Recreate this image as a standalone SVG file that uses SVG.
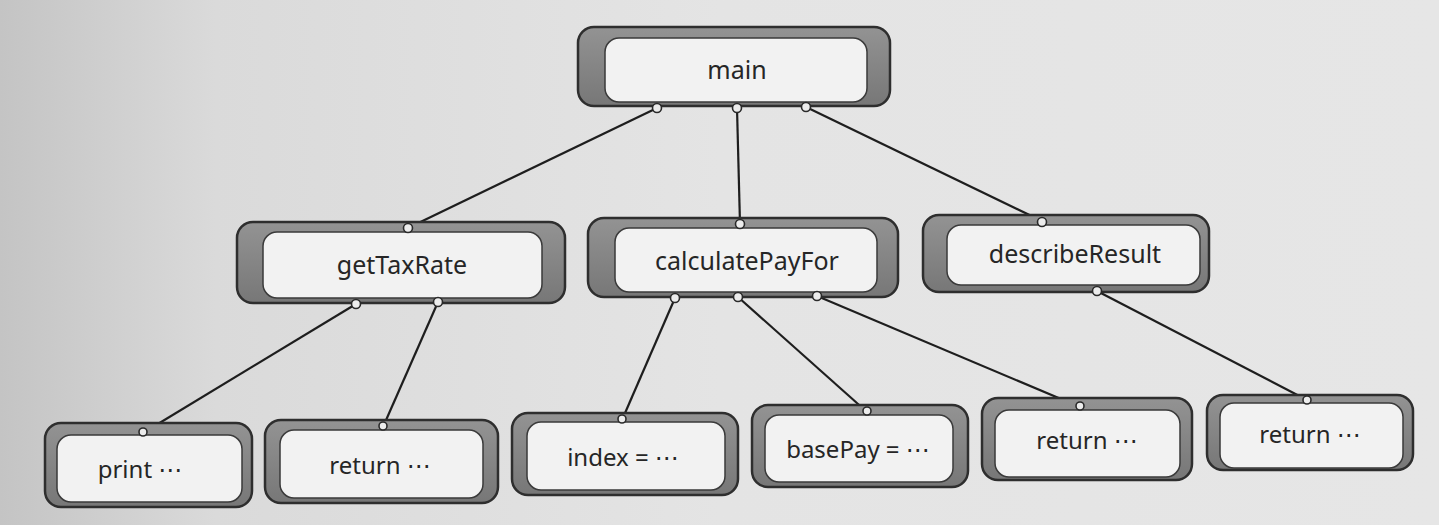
<svg xmlns="http://www.w3.org/2000/svg" width="1439" height="525" viewBox="0 0 1439 525">
<defs>
<linearGradient id="bg" x1="0" y1="0" x2="1" y2="0">
<stop offset="0" stop-color="#c4c4c4"/>
<stop offset="0.15" stop-color="#dadada"/>
<stop offset="0.5" stop-color="#e4e4e4"/>
<stop offset="1" stop-color="#e6e6e6"/>
</linearGradient>
<linearGradient id="shell" x1="0" y1="0" x2="0" y2="1">
<stop offset="0" stop-color="#939393"/>
<stop offset="1" stop-color="#777777"/>
</linearGradient>
<style>
.outer{fill:url(#shell);stroke:#2e2e2e;stroke-width:2.5}
.inner{fill:#f2f2f2;stroke:#3a3a3a;stroke-width:1.5}
.lbl{font-family:"Noto Sans","Open Sans","DejaVu Sans",sans-serif;font-size:25px;fill:#262626;text-anchor:middle}
.sm{font-size:24px}
.edge{stroke:#1e1e1e;stroke-width:2.2;fill:none}
.dot{fill:#ececec;stroke:#2a2a2a;stroke-width:1.6}
</style>
</defs>
<rect x="0" y="0" width="1439" height="525" fill="url(#bg)"/>

<g id="connectors">
<line class="edge" x1="657" y1="108" x2="408" y2="228"/>
<line class="edge" x1="737" y1="108" x2="740" y2="224"/>
<line class="edge" x1="806" y1="107" x2="1042" y2="221"/>
<line class="edge" x1="356" y1="304" x2="143" y2="433"/>
<line class="edge" x1="438" y1="302" x2="383" y2="427"/>
<line class="edge" x1="675" y1="298" x2="622" y2="420"/>
<line class="edge" x1="738" y1="297" x2="867" y2="412"/>
<line class="edge" x1="817" y1="296" x2="1080" y2="407"/>
<line class="edge" x1="1097" y1="291" x2="1307" y2="400"/>
</g>

<g id="main">
<rect class="outer" x="578" y="27" width="312" height="79" rx="16"/>
<rect class="inner" x="605" y="38" width="262" height="64" rx="14"/>
<text class="lbl" x="737" y="79">main</text>
<circle class="dot" cx="657" cy="108" r="4.5"/>
<circle class="dot" cx="737" cy="108" r="4.5"/>
<circle class="dot" cx="806" cy="107" r="4.5"/>
</g>

<g id="getTaxRate">
<rect class="outer" x="237" y="222" width="328" height="81" rx="16"/>
<rect class="inner" x="263" y="232" width="279" height="66" rx="14"/>
<text class="lbl" x="402" y="274">getTaxRate</text>
<circle class="dot" cx="408" cy="228" r="4.5"/>
<circle class="dot" cx="356" cy="304" r="4.5"/>
<circle class="dot" cx="438" cy="302" r="4.5"/>
</g>

<g id="calculatePayFor">
<rect class="outer" x="588" y="218" width="310" height="79" rx="16"/>
<rect class="inner" x="615" y="228" width="262" height="64" rx="14"/>
<text class="lbl" x="747" y="270">calculatePayFor</text>
<circle class="dot" cx="740" cy="224" r="4.5"/>
<circle class="dot" cx="675" cy="298" r="4.5"/>
<circle class="dot" cx="738" cy="297" r="4.5"/>
<circle class="dot" cx="817" cy="296" r="4.5"/>
</g>

<g id="describeResult">
<rect class="outer" x="923" y="215" width="286" height="77" rx="16"/>
<rect class="inner" x="947" y="225" width="253" height="60" rx="14"/>
<text class="lbl" x="1075" y="263">describeResult</text>
<circle class="dot" cx="1042" cy="222" r="4.5"/>
<circle class="dot" cx="1097" cy="291" r="4.5"/>
</g>

<g id="print">
<rect class="outer" x="45" y="423" width="207" height="84" rx="16"/>
<rect class="inner" x="57" y="435" width="185" height="67" rx="14"/>
<text class="lbl sm" x="140" y="478">print ⋯</text>
<circle class="dot" cx="143" cy="432" r="4"/>
</g>

<g id="return1">
<rect class="outer" x="265" y="420" width="233" height="83" rx="16"/>
<rect class="inner" x="280" y="430" width="203" height="68" rx="14"/>
<text class="lbl sm" x="380" y="474">return ⋯</text>
<circle class="dot" cx="383" cy="426" r="4"/>
</g>

<g id="index">
<rect class="outer" x="512" y="413" width="226" height="82" rx="16"/>
<rect class="inner" x="527" y="422" width="198" height="68" rx="14"/>
<text class="lbl sm" x="623" y="466">index = ⋯</text>
<circle class="dot" cx="622" cy="419" r="4"/>
</g>

<g id="basePay">
<rect class="outer" x="752" y="405" width="216" height="82" rx="16"/>
<rect class="inner" x="765" y="415" width="188" height="67" rx="14"/>
<text class="lbl sm" x="858" y="458">basePay = ⋯</text>
<circle class="dot" cx="867" cy="411" r="4"/>
</g>

<g id="return2">
<rect class="outer" x="982" y="398" width="210" height="82" rx="16"/>
<rect class="inner" x="995" y="410" width="185" height="67" rx="14"/>
<text class="lbl sm" x="1087" y="449">return ⋯</text>
<circle class="dot" cx="1080" cy="406" r="4"/>
</g>

<g id="return3">
<rect class="outer" x="1207" y="395" width="206" height="75" rx="16"/>
<rect class="inner" x="1220" y="403" width="183" height="65" rx="14"/>
<text class="lbl sm" x="1310" y="443">return ⋯</text>
<circle class="dot" cx="1307" cy="400" r="4"/>
</g>
</svg>
